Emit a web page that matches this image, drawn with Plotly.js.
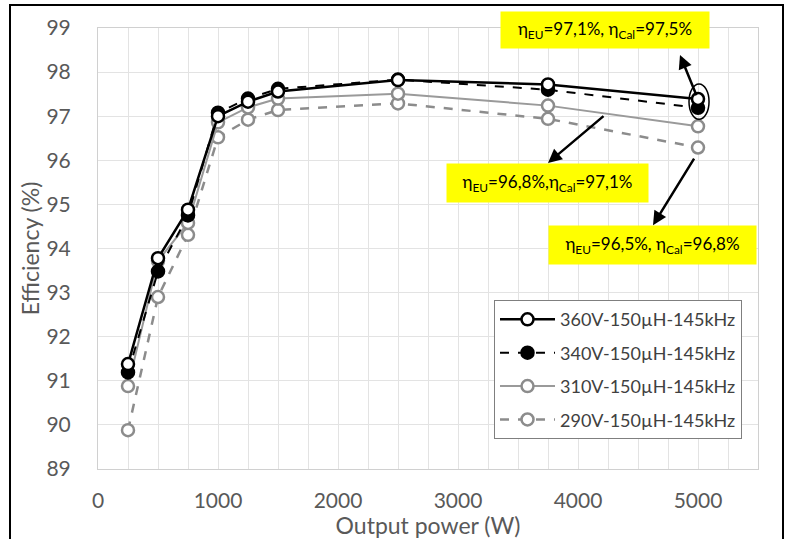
<!DOCTYPE html>
<html>
<head>
<meta charset="utf-8">
<script src="https://cdn.plot.ly/plotly-3.0.1.min.js"></script>
<style>
html,body{margin:0;padding:0;background:#fff;}
#wrap{position:relative;width:787px;height:539px;overflow:hidden;}
#chart{width:787px;height:539px;}
#frame{position:absolute;left:9px;top:4px;width:771px;height:560px;border:2px solid #000;pointer-events:none;}
</style>
</head>
<body>
<div id="wrap"><div id="chart"></div><div id="frame"></div></div>
<script>
const power = [250, 500, 750, 1000, 1250, 1500, 2500, 3750, 5000];
const seriesNames = ["360V-150µH-145kHz", "340V-150µH-145kHz", "310V-150µH-145kHz", "290V-150µH-145kHz"];
const eff360 = [91.38, 93.78, 94.88, 97.0, 97.33, 97.56, 97.82, 97.72, 97.39];
const eff340 = [91.19, 93.48, 94.75, 97.08, 97.40, 97.62, 97.83, 97.60, 97.19];
const eff310 = [90.88, 93.72, 94.58, 96.86, 97.20, 97.40, 97.51, 97.24, 96.77];
const eff290 = [89.88, 92.90, 94.31, 96.52, 96.92, 97.14, 97.29, 96.94, 96.29];
const xTickLabels = ["0", "1000", "2000", "3000", "4000", "5000"];
const xTickVals = [0, 1000, 2000, 3000, 4000, 5000];
const notes = [
  "η<sub>EU</sub>=97,1%, η<sub>Cal</sub>=97,5%",
  "η<sub>EU</sub>=96,8%,η<sub>Cal</sub>=97,1%",
  "η<sub>EU</sub>=96,5%, η<sub>Cal</sub>=96,8%"
];

const FONT = "Lato, 'Open Sans', sans-serif";
const black = "#000000";
const gray = "#8c8c8c";

function tr(y, name, lineColor, dash, lw, mFill, mLine, grp, rank) {
  return {
    x: power, y: y, name: name, type: "scatter", mode: "lines+markers",
    legendgroup: grp, legendrank: rank,
    line: {color: lineColor, width: lw, dash: dash},
    marker: {symbol: "circle", size: 12, color: mFill, line: {color: mLine, width: 2.5}}
  };
}

const data = [
  tr(eff290, seriesNames[3], gray, "dash", 2.5, "#ffffff", gray, "d", 4),
  tr(eff310, seriesNames[2], "#9a9a9a", "solid", 2, "#ffffff", gray, "c", 3),
  tr(eff340, seriesNames[1], black, "dash", 2, black, black, "b", 2),
  tr(eff360, seriesNames[0], black, "solid", 2.5, "#ffffff", black, "a", 1)
];

const noteFont = {family: FONT, size: 17, color: "#000"};
const layout = {
  width: 787, height: 539,
  margin: {l: 98, r: 29, t: 28, b: 70},
  paper_bgcolor: "#fff", plot_bgcolor: "#fff",
  font: {family: FONT, color: "#595959"},
  showlegend: true,
  legend: {
    traceorder: "grouped",
    x: 0.6, y: 0.383, xanchor: "left", yanchor: "top",
    bordercolor: "#7f7f7f", borderwidth: 1, bgcolor: "#fff",
    font: {family: FONT, size: 18, color: "#404040"},
    tracegroupgap: 7, itemwidth: 55
  },
  xaxis: {
    range: [0, 5500], tickvals: xTickVals, ticktext: xTickLabels,
    showgrid: true, gridcolor: "#e3e3e3", gridwidth: 1,
    minor: {dtick: 250, showgrid: true, gridcolor: "#e3e3e3", gridwidth: 1, ticks: ""},
    showline: true, linecolor: "#d0d0d0", mirror: true, zeroline: false, ticks: "",
    tickfont: {family: FONT, size: 21, color: "#595959"},
    ticklabelstandoff: 13,
    title: {text: "Output power (W)", font: {family: FONT, size: 23, color: "#595959"}, standoff: 0}
  },
  yaxis: {
    range: [89, 99], dtick: 1, tick0: 89,
    showgrid: true, gridcolor: "#e3e3e3", gridwidth: 1,
    showline: true, linecolor: "#d0d0d0", mirror: true, zeroline: false, ticks: "",
    tickfont: {family: FONT, size: 21, color: "#595959"},
    ticklabelstandoff: 22,
    title: {text: "Efficiency (%)", font: {family: FONT, size: 23, color: "#595959"}, standoff: 0}
  },
  shapes: [
    {type: "circle", xref: "x", yref: "y", x0: 4925, x1: 5092, y0: 96.93, y1: 97.73,
     line: {color: "#000", width: 1.5}}
  ],
  annotations: [
    {x: 4229, y: 98.96, xref: "x", yref: "y", text: notes[0], showarrow: false,
     bgcolor: "#ffff00", width: 206, height: 34, font: noteFont},
    {x: 3746, y: 95.49, xref: "x", yref: "y", text: notes[1], showarrow: false,
     bgcolor: "#ffff00", width: 199, height: 36, font: noteFont},
    {x: 4621, y: 94.08, xref: "x", yref: "y", text: notes[2], showarrow: false,
     bgcolor: "#ffff00", width: 205, height: 36, font: noteFont},
    {x: 4850, y: 98.39, ax: 4992, ay: 97.44, xref: "x", yref: "y", axref: "x", ayref: "y",
     text: "", showarrow: true, arrowhead: 2, arrowsize: 1.1, arrowwidth: 2.5, arrowcolor: "#000"},
    {x: 3750, y: 95.94, ax: 4225, ay: 97.03, xref: "x", yref: "y", axref: "x", ayref: "y",
     text: "", showarrow: true, arrowhead: 2, arrowsize: 1.1, arrowwidth: 2.5, arrowcolor: "#000"},
    {x: 4625, y: 94.53, ax: 4975, ay: 96.07, xref: "x", yref: "y", axref: "x", ayref: "y",
     text: "", showarrow: true, arrowhead: 2, arrowsize: 1.1, arrowwidth: 2.5, arrowcolor: "#000"}
  ]
};

Plotly.newPlot("chart", data, layout, {displayModeBar: false, staticPlot: true});
</script>
</body>
</html>
